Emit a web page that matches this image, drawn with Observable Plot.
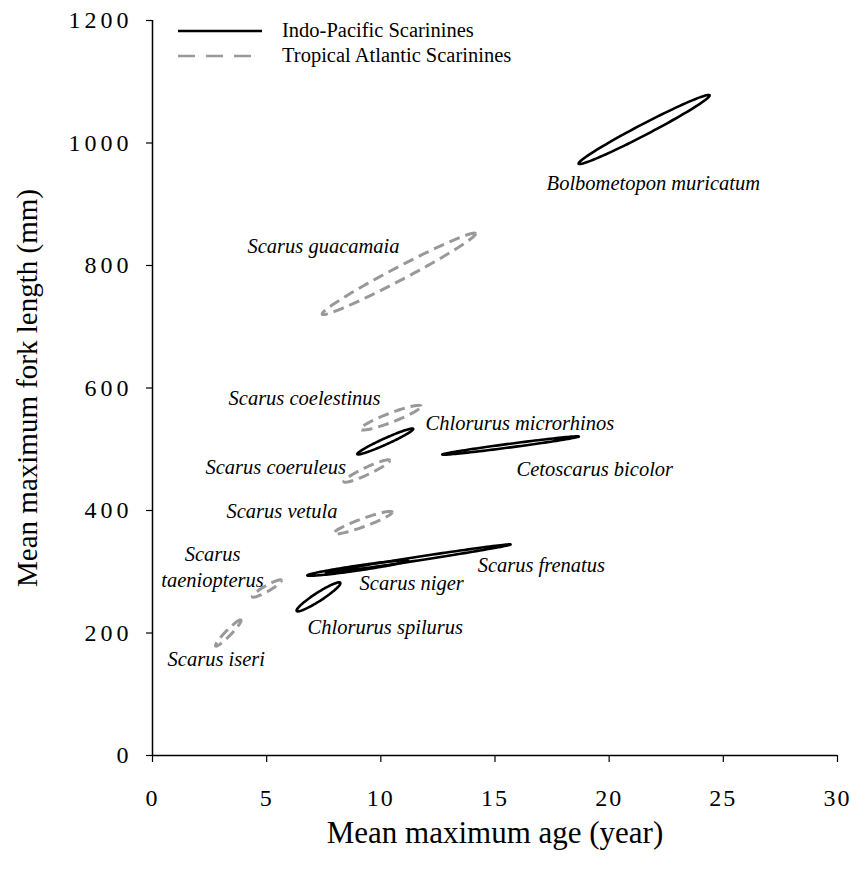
<!DOCTYPE html>
<html>
<head>
<meta charset="utf-8">
<script src="https://cdn.jsdelivr.net/npm/d3@7"></script>
<script src="https://cdn.jsdelivr.net/npm/@observablehq/plot@0.6"></script>
<style>
  html, body { margin: 0; padding: 0; background: #fff; }
  #wrap { position: relative; width: 850px; height: 879px; font-family: "Liberation Serif", "Times New Roman", serif; }
  #legend { position: absolute; left: 178px; top: 18px; font-size: 20.5px; color: #000; }
  #legend .row { display: flex; align-items: center; height: 25px; }
  #legend svg { margin-right: 20px; }
  g[aria-label="y-axis tick label"] text { letter-spacing: 4px; }
  g[aria-label="x-axis tick label"] text { letter-spacing: 2px; }
</style>
</head>
<body>
<div id="wrap">
  <div id="chart"></div>
  <div id="legend">
    <div class="row"><svg width="84" height="6"><line x1="0" x2="84" y1="3" y2="3" stroke="#000" stroke-width="2.5"/></svg>Indo-Pacific Scarinines</div>
    <div class="row"><svg width="84" height="6"><line x1="0" x2="84" y1="3" y2="3" stroke="#999" stroke-width="2.5" stroke-dasharray="17,11"/></svg>Tropical Atlantic Scarinines</div>
  </div>
</div>
<script>
// Ellipse data: major-axis tips (age in years, fork length in mm) and vertical half-thickness (mm)
const species = ["Bolbometopon muricatum","Scarus guacamaia","Scarus coelestinus","Chlorurus microrhinos","Scarus coeruleus","Cetoscarus bicolor","Scarus vetula","Scarus niger","Scarus frenatus","Chlorurus spilurus","Scarus taeniopterus","Scarus iseri"];
const region  = ["Indo-Pacific","Atlantic","Atlantic","Indo-Pacific","Atlantic","Indo-Pacific","Atlantic","Indo-Pacific","Indo-Pacific","Indo-Pacific","Atlantic","Atlantic"];
const ageLow  = [18.66, 7.43, 9.11, 8.97, 8.38, 12.69, 7.94, 6.78, 7.60, 6.31, 4.37, 2.76];
const lenLow  = [966.5, 721.0, 533.0, 492.3, 447.3, 491.4, 363.0, 294.0, 298.5, 236.7, 259.6, 179.5];
const ageHigh = [24.40, 14.15, 11.76, 11.42, 10.39, 18.67, 10.50, 11.20, 15.68, 8.23, 5.65, 3.88];
const lenHigh = [1077.6, 851.8, 570.0, 533.1, 481.6, 520.8, 397.2, 318.0, 344.5, 281.3, 285.7, 220.4];
const halfWidth = [10, 12, 8, 5.5, 6.5, 3, 7, 4, 3, 8, 5.5, 6.5];

// Label anchors (data units)
const labelText = ["Bolbometopon muricatum","Scarus guacamaia","Scarus coelestinus","Chlorurus microrhinos","Scarus coeruleus","Cetoscarus bicolor","Scarus vetula","Scarus frenatus","Scarus niger","Chlorurus spilurus","Scarus iseri"];
const labelAge = [17.26, 4.16, 3.33, 11.96, 2.32, 15.94, 3.24, 14.24, 9.07, 6.79, 0.66];
const labelLen = [933.9, 831.0, 582.9, 542.0, 470.2, 467.0, 398.4, 310.2, 280.8, 209.0, 156.7];
const stackedText = ["Scarus\ntaeniopterus"];
const stackedAge = [2.63];
const stackedLen = [309.5];

const xTicks = [0, 5, 10, 15, 20, 25, 30];
const yTicks = [0, 200, 400, 600, 800, 1000, 1200];

// Build ellipse outlines (parametric, from conjugate semi-diameters)
const outline = [];
species.forEach((s, i) => {
  const cx = (ageLow[i] + ageHigh[i]) / 2, cy = (lenLow[i] + lenHigh[i]) / 2;
  const ax = (ageHigh[i] - ageLow[i]) / 2, ay = (lenHigh[i] - lenLow[i]) / 2;
  const n = 120;
  for (let k = 0; k <= n; k++) {
    const t = 2 * Math.PI * k / n;
    outline.push({species: s, region: region[i], age: cx + Math.cos(t) * ax, len: cy + Math.cos(t) * ay + Math.sin(t) * halfWidth[i]});
  }
});
const labels = labelText.map((t, i) => ({text: t, age: labelAge[i], len: labelLen[i]}));
const stacked = stackedText.map((t, i) => ({text: t, age: stackedAge[i], len: stackedLen[i]}));

const serif = '"Liberation Serif", "Times New Roman", serif';
const chart = Plot.plot({
  width: 850,
  height: 879,
  marginLeft: 152,
  marginRight: 13,
  marginTop: 20,
  marginBottom: 124,
  style: {fontFamily: serif, background: "#fff", color: "#000"},
  x: {domain: [0, 30]},
  y: {domain: [0, 1200]},
  marks: [
    Plot.axisX({ticks: xTicks, tickFormat: d => String(d), tickSize: 7, tickPadding: 26, fontSize: 24, label: null, stroke: "#000", strokeWidth: 1.2, strokeOpacity: 1}),
    Plot.axisY({ticks: yTicks, tickFormat: d => String(d), tickSize: 6, tickPadding: 14, fontSize: 24, label: null, stroke: "#000", strokeWidth: 1.2, strokeOpacity: 1}),
    Plot.ruleY([0], {stroke: "#000", strokeWidth: 1.5}),
    Plot.ruleX([0], {stroke: "#000", strokeWidth: 1.5}),
    Plot.line(outline.filter(d => d.region === "Atlantic"), {x: "age", y: "len", z: "species", stroke: "#999", strokeWidth: 3, strokeDasharray: "11,6", strokeLinecap: "butt"}),
    Plot.line(outline.filter(d => d.region === "Indo-Pacific"), {x: "age", y: "len", z: "species", stroke: "#000", strokeWidth: 2.6}),
    Plot.text(labels, {x: "age", y: "len", text: "text", textAnchor: "start", fontSize: 20.5, fontStyle: "italic", lineAnchor: "middle", fill: "#000"}),
    Plot.text(stacked, {x: "age", y: "len", text: "text", textAnchor: "middle", fontSize: 20.5, fontStyle: "italic", lineAnchor: "middle", lineHeight: 1.25, fill: "#000"}),
    Plot.text(["Mean maximum age (year)"], {frameAnchor: "bottom", dy: 78, fontSize: 31, textAnchor: "middle", lineAnchor: "middle", fill: "#000"}),
    Plot.text(["Mean maximum fork length (mm)"], {frameAnchor: "left", dx: -125, rotate: -90, fontSize: 29, textAnchor: "middle", lineAnchor: "middle", fill: "#000"})
  ]
});
document.getElementById("chart").appendChild(chart);
</script>
</body>
</html>
